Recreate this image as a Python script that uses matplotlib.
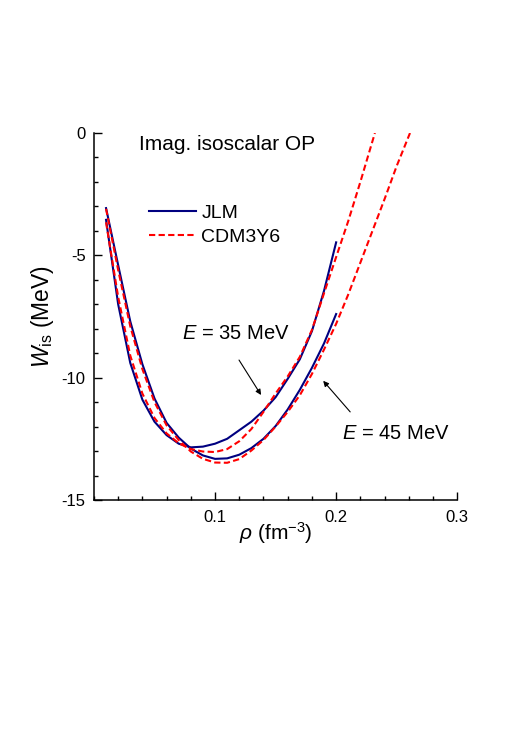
import numpy as np
import matplotlib
matplotlib.use("Agg")
import matplotlib.pyplot as plt
from matplotlib.ticker import MultipleLocator

plt.rcParams['font.family'] = ['Liberation Sans', 'DejaVu Sans']
plt.rcParams['mathtext.fontset'] = 'custom'
plt.rcParams['mathtext.rm'] = 'Liberation Sans'
plt.rcParams['mathtext.it'] = 'Liberation Sans:italic'
plt.rcParams['axes.unicode_minus'] = False

# density grid (fm^-3)
rho_jlm = [0.01, 0.02, 0.03, 0.04, 0.05, 0.06, 0.07, 0.08, 0.09, 0.10,
           0.11, 0.12, 0.13, 0.14, 0.15, 0.16, 0.17, 0.18, 0.19, 0.20]

# JLM, E = 35 MeV
w_jlm_35 = [-3.55, -7.0, -9.4, -10.9, -11.8, -12.35, -12.7, -12.85, -12.82, -12.7,
            -12.5, -12.15, -11.8, -11.35, -10.8, -10.05, -9.25, -8.1, -6.45, -4.47]
# JLM, E = 45 MeV
w_jlm_45 = [-3.07, -5.4, -7.7, -9.45, -10.85, -11.85, -12.45, -12.9, -13.18, -13.32,
            -13.3, -13.15, -12.88, -12.5, -11.98, -11.3, -10.5, -9.6, -8.6, -7.4]

# CDM3Y6, E = 35 MeV
rho_cdm_35 = [0.01, 0.02, 0.03, 0.04, 0.05, 0.06, 0.07, 0.08, 0.09, 0.10, 0.11,
              0.12, 0.13, 0.14, 0.15, 0.16, 0.17, 0.18, 0.19, 0.20, 0.21, 0.22, 0.232]
w_cdm_35 = [-3.65, -6.7, -9.1, -10.65, -11.65, -12.28, -12.68, -12.92, -13.02, -13.04, -12.92,
            -12.6, -12.1, -11.4, -10.65, -9.95, -9.15, -8.05, -6.55, -5.07, -3.6, -2.0, 0.0]

# CDM3Y6, E = 45 MeV
rho_cdm_45 = [0.01, 0.02, 0.03, 0.04, 0.05, 0.06, 0.07, 0.08, 0.09, 0.10, 0.11, 0.12, 0.13,
              0.14, 0.15, 0.16, 0.17, 0.18, 0.19, 0.20, 0.21, 0.22, 0.23, 0.24, 0.25, 0.261]
w_cdm_45 = [-3.1, -5.6, -7.9, -9.65, -11.0, -11.95, -12.55, -13.02, -13.32, -13.47, -13.48, -13.33, -12.98,
            -12.55, -12.0, -11.4, -10.72, -9.85, -8.85, -7.8, -6.6, -5.3, -4.0, -2.7, -1.35, 0.0]

blue = '#000080'
red = '#ff0000'

fig = plt.figure(figsize=(5.19, 7.36), dpi=100)
ax = fig.add_axes([0.181, 0.3207, 0.700, 0.4986])

ax.plot(rho_jlm, w_jlm_35, color=blue, lw=1.5, label='JLM')
ax.plot(rho_jlm, w_jlm_45, color=blue, lw=1.5)
ax.plot(rho_cdm_35, w_cdm_35, color=red, lw=1.5, dashes=(3, 1.6), label='CDM3Y6')
ax.plot(rho_cdm_45, w_cdm_45, color=red, lw=1.5, dashes=(3, 1.6))

ax.set_xlim(0, 0.3)
ax.set_ylim(-15, 0)
ax.spines['top'].set_visible(False)
ax.spines['right'].set_visible(False)
for s in ('left', 'bottom'):
    ax.spines[s].set_linewidth(1.1)

ax.xaxis.set_major_locator(MultipleLocator(0.1))
ax.xaxis.set_minor_locator(MultipleLocator(0.02))
ax.yaxis.set_major_locator(MultipleLocator(5))
ax.yaxis.set_minor_locator(MultipleLocator(1))
ax.tick_params(which='both', direction='in', width=1.0, labelsize=12)
ax.tick_params(which='major', length=6)
ax.tick_params(which='minor', length=3)
ax.tick_params(axis='x', pad=7)
ax.tick_params(axis='y', pad=6)
ax.set_xticks([0.1, 0.2, 0.3])
ax.set_xticklabels(['0.1', '0.2', '0.3'])
ax.set_yticks([0, -5, -10, -15])
ax.set_yticklabels(['0', '-5', '-10', '-15'])

ax.set_xlabel(r'$\rho$ (fm$^{-3}$)', fontsize=15)
ax.set_ylabel(r'$W_{\mathrm{is}}$ (MeV)', fontsize=16.5)
ax.xaxis.set_label_coords(0.5, -0.055)
ax.yaxis.set_label_coords(-0.105, 0.5)

ax.text(0.0372, -0.49, 'Imag. isoscalar OP', fontsize=15, ha='left', va='center')

ax.legend(loc='upper left', bbox_to_anchor=(0.13, 0.826), frameon=False, fontsize=14,
          handlelength=2.4, handletextpad=0.3, labelspacing=0.3, borderaxespad=0)

arrow = dict(arrowstyle='-|>', lw=0.8, color='k', mutation_scale=8, shrinkA=0, shrinkB=0)
ax.text(0.0727, -8.21, r'$E$ = 35 MeV', fontsize=14.5, ha='left', va='center')
ax.annotate('', xy=(0.138, -10.71), xytext=(0.1198, -9.28), arrowprops=arrow)
ax.text(0.205, -12.3, r'$E$ = 45 MeV', fontsize=14.5, ha='left', va='center')
ax.annotate('', xy=(0.1893, -10.13), xytext=(0.2116, -11.40), arrowprops=arrow)

fig.savefig('out.png', dpi=100)
